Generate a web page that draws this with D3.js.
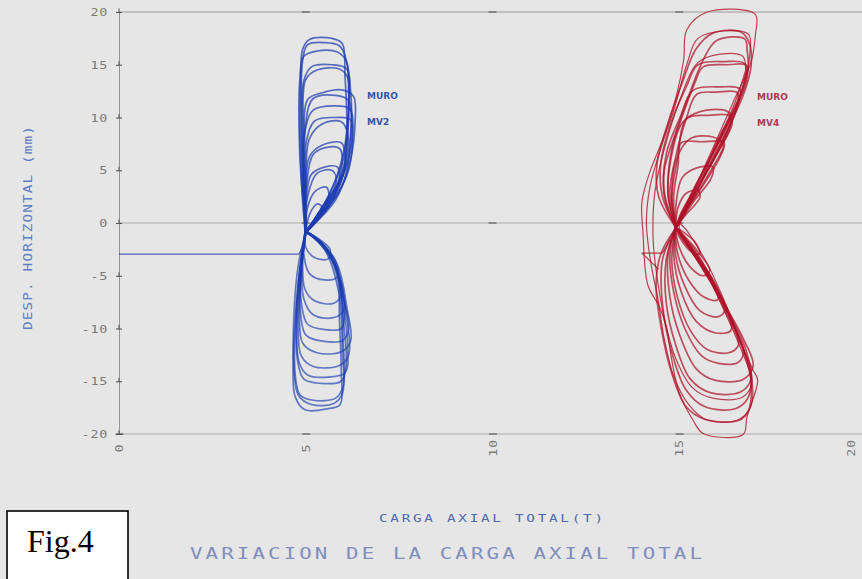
<!DOCTYPE html>
<html>
<head>
<meta charset="utf-8">
<script src="https://cdn.jsdelivr.net/npm/d3@7"></script>
<style>
  html, body { margin: 0; padding: 0; background: #e6e6e6; }
  svg { display: block; }
</style>
</head>
<body>
<svg id="chart" width="862" height="579"></svg>
<script>
// Axis ticks
const xTicks = [0, 5, 10, 15, 20];
const yTicks = [-20, -15, -10, -5, 0, 5, 10, 15, 20];

// Wall MV2: hysteresis loops, [axial load (t), horizontal displacement (mm)]
const mv2Lead = [[0, -2.95], [4.82, -2.95], [4.92, -2.2]];

const mv2Upper = [
  [[4.98,-0.8],[4.90,3.0],[4.85,8.0],[4.86,13.0],[4.92,16.5],[5.10,17.4],[5.70,17.5],[5.98,17.0],[6.05,14.0],[6.10,9.0],[6.00,4.5],[5.60,1.5],[5.05,-0.6]],
  [[5.0,-0.9],[4.92,4],[4.88,10],[4.92,15.5],[5.05,16.9],[5.5,17.1],[5.9,16.8],[6.08,15.5],[6.15,11],[6.05,6],[5.75,2.5],[5.1,-0.5]],
  [[5.02,-0.6],[4.88,4],[4.82,9],[4.84,13.5],[4.95,15.8],[5.3,16.3],[5.85,16.2],[6.1,15.2],[6.15,11.5],[6.0,6.5],[5.6,2.5],[5.0,-0.8]],
  [[5.0,-1.0],[4.93,3.5],[4.9,9],[4.95,13.5],[5.15,14.8],[5.7,15.0],[6.1,14.6],[6.2,12.5],[6.22,9],[6.1,5],[5.8,2.2],[5.05,-0.7]],
  [[4.98,-0.7],[4.95,4],[4.93,9.5],[5.0,13.6],[5.3,14.5],[5.9,14.6],[6.12,13.8],[6.15,10.5],[6.0,6],[5.6,2.5],[5.02,-0.8]],
  [[5.0,-0.9],[4.95,3.5],[4.95,8.5],[5.05,11.7],[5.4,12.3],[6.0,12.6],[6.28,12.0],[6.32,9.5],[6.2,6],[5.9,3],[5.1,-0.6]],
  [[4.98,-0.8],[4.97,4.5],[5.0,9.5],[5.2,11.8],[5.8,12.1],[6.15,11.6],[6.2,8.5],[6.0,4.5],[5.5,1.8],[5.0,-0.9]],
  [[5.02,-0.6],[4.93,4],[4.97,8.5],[5.2,10.7],[5.75,11.1],[6.18,10.8],[6.25,8.5],[6.05,5],[5.55,2],[5.0,-0.8]],
  [[5.0,-1.0],[4.98,3.5],[5.02,7.8],[5.25,9.7],[5.8,10.0],[6.2,9.8],[6.25,7.5],[6.1,4.5],[5.7,2],[5.05,-0.7]],
  [[4.98,-0.8],[5.0,4],[5.1,8],[5.45,9.4],[5.95,9.6],[6.12,8.5],[6.05,5.5],[5.7,2.5],[5.02,-0.9]],
  [[5.0,-0.9],[5.0,3],[5.1,6.3],[5.45,7.4],[5.95,7.6],[6.05,6.5],[5.95,4],[5.6,1.8],[5.05,-0.6]],
  [[4.98,-0.8],[5.02,3.5],[5.2,6.5],[5.6,7.2],[5.92,7.0],[5.95,5],[5.7,2.6],[5.02,-0.9]],
  [[5.0,-0.9],[5.02,2.5],[5.15,4.6],[5.5,5.3],[5.85,5.3],[5.9,4.2],[5.7,2.2],[5.05,-0.6]],
  [[4.98,-0.8],[5.05,2.5],[5.3,4.7],[5.7,5.0],[5.82,4.0],[5.55,1.8],[5.02,-0.9]],
  [[5.0,-0.9],[5.05,1.5],[5.25,3.0],[5.55,3.4],[5.62,2.5],[5.4,1],[5.05,-0.6]],
  [[5.0,-0.8],[5.1,0.8],[5.3,1.8],[5.42,1.6],[5.3,0.5],[5.02,-0.8]]
];

const mv2Lower = [
  [[5.0,-0.8],[4.85,-4],[4.72,-9],[4.66,-14],[4.72,-16.5],[4.98,-17.7],[5.6,-17.6],[5.92,-17.2],[5.95,-14],[5.9,-9],[5.85,-4.5],[5.5,-2.2],[5.02,-0.9]],
  [[5.02,-0.6],[4.8,-4],[4.68,-9],[4.68,-13.5],[4.8,-16.3],[5.15,-17.2],[5.75,-17.1],[5.98,-16.2],[5.98,-12],[5.88,-6.5],[5.5,-2.5],[5.0,-0.8]],
  [[4.98,-0.9],[4.82,-5],[4.72,-10],[4.72,-14.5],[4.85,-16.3],[5.2,-16.8],[5.8,-16.6],[6.0,-15.5],[6.0,-11],[5.88,-5],[5.45,-2],[5.0,-0.7]],
  [[5.0,-0.8],[4.85,-4.5],[4.76,-9],[4.78,-13],[4.95,-14.8],[5.4,-15.2],[5.95,-15.0],[6.08,-13.5],[6.0,-9],[5.85,-4.5],[5.4,-1.8],[5.0,-0.9]],
  [[5.02,-0.6],[4.84,-5],[4.76,-9.5],[4.82,-13.2],[5.05,-14.4],[5.6,-14.6],[6.05,-14.2],[6.12,-11.5],[5.95,-7],[5.7,-3.6],[5.2,-1.3],[5.0,-0.8]],
  [[4.98,-0.9],[4.86,-5],[4.8,-9.5],[4.88,-12.6],[5.2,-13.6],[5.9,-13.5],[6.15,-12.5],[6.1,-9],[5.85,-4.5],[5.4,-1.8],[5.02,-0.8]],
  [[5.0,-0.8],[4.88,-4.5],[4.83,-8.5],[4.92,-11.4],[5.3,-12.3],[5.95,-12.2],[6.2,-11.2],[6.1,-8],[5.85,-4],[5.35,-1.6],[5.0,-0.9]],
  [[5.02,-0.6],[4.88,-4.5],[4.86,-8.5],[5.0,-10.6],[5.45,-11.2],[6.0,-11.1],[6.15,-10],[6.0,-7],[5.75,-3.8],[5.3,-1.5],[5.0,-0.8]],
  [[4.98,-0.9],[4.88,-4],[4.88,-7.5],[5.05,-9.6],[5.5,-10.1],[5.95,-10.0],[6.05,-8.5],[5.9,-5],[5.5,-2.3],[5.02,-0.8]],
  [[5.02,-0.6],[4.9,-4],[4.95,-7.2],[5.2,-8.7],[5.7,-9.0],[6.0,-8.4],[5.92,-5.8],[5.6,-2.8],[5.0,-0.8]],
  [[5.0,-0.8],[4.92,-3.5],[4.98,-6.3],[5.25,-7.4],[5.75,-7.6],[5.95,-6.8],[5.85,-4.5],[5.45,-2],[5.0,-0.9]],
  [[4.98,-0.9],[4.95,-3],[5.1,-4.8],[5.5,-5.4],[5.85,-5.1],[5.8,-3.6],[5.4,-1.8],[5.02,-0.8]],
  [[5.0,-0.8],[5.0,-2.3],[5.25,-3.3],[5.6,-3.4],[5.65,-2.5],[5.3,-1.4],[5.0,-0.9]]
];

// Wall MV4: hysteresis loops, [axial load (t), horizontal displacement (mm)]
const mv4Lead = [[14.45,-4.4],[14.0,-2.85],[14.55,-2.85],[14.75,-1.6]];

const mv4Outer = [
  [[17.05,18.2],[17.03,19.8],[15.75,20.0],[15.2,18.3],[15.12,15.5],[14.92,12],[14.62,8.5],[14.2,4.7],[14.0,2.0],[14.03,-1],[14.16,-5.9],[14.48,-8.0],[14.67,-10.1],[14.8,-13.0],[15.0,-16.1],[15.37,-18.7],[15.64,-19.95],[16.71,-20.05],[16.81,-18.4],[17.1,-14.9],[16.97,-13.9],[16.7,-11.8],[16.28,-8.0],[15.74,-3.8],[15.2,-0.7],[15.0,0.2],[15.55,3.6],[16.0,7.7],[16.5,11],[16.82,14.3],[16.95,15.6],[17.05,18.2]],
  [[16.9,16.5],[16.85,17.9],[16.2,18.2],[15.5,17.5],[15.2,15],[14.88,11],[14.5,7],[14.22,3.5],[14.12,0],[14.25,-4],[14.42,-7],[14.6,-11],[14.85,-14.5],[15.25,-17.2],[15.7,-18.6],[16.55,-18.7],[16.9,-17.5],[16.95,-15],[16.6,-11.5],[16.1,-7.5],[15.55,-3.5],[15.0,-0.4],[15.45,3.5],[15.95,7.5],[16.45,11.5],[16.82,14.5],[16.9,16.5]],
  [[16.78,14.5],[16.7,15.8],[16.1,16.0],[15.5,15.2],[15.0,11.5],[14.6,7],[14.35,3],[14.3,-1.5],[14.4,-5],[14.6,-9],[14.9,-12.8],[15.35,-15.6],[15.9,-16.6],[16.7,-16.5],[16.95,-15],[16.7,-12],[16.25,-8.5],[15.6,-4],[14.95,-0.4],[15.4,3.2],[16.0,7.5],[16.5,11.5],[16.78,14.5]]
];

const mv4Upper = [
  [[14.9,-0.4],[14.62,2.5],[14.6,5],[14.9,8.5],[15.28,12.3],[15.62,15.3],[16.0,17.3],[16.75,17.45],[16.82,16.3],[16.84,14.5],[16.58,11.5],[16.08,7.8],[15.5,3.8],[14.95,-0.3]],
  [[14.92,-0.5],[14.45,2.5],[14.4,5.5],[14.7,9.5],[15.1,13.5],[15.45,16.5],[15.9,18.0],[16.65,18.1],[16.88,17.0],[16.92,14.8],[16.7,12],[16.2,8.3],[15.6,4.2],[14.95,-0.3]],
  [[14.9,-0.4],[14.7,3],[14.8,7],[15.12,10.5],[15.42,13.3],[15.64,14.8],[16.3,15.0],[16.8,14.95],[16.8,13.5],[16.5,10.8],[16.02,7.5],[15.45,3.5],[14.95,-0.3]],
  [[14.92,-0.5],[14.55,2.5],[14.5,5.5],[14.78,9.5],[15.2,13],[15.5,15.0],[16.2,15.3],[16.75,15.1],[16.72,13],[16.35,10],[15.88,6.5],[15.35,3],[14.9,-0.3]],
  [[14.9,-0.4],[14.75,3],[14.92,6.5],[15.18,9.8],[15.47,12.2],[16.0,12.4],[16.55,12.35],[16.55,11],[16.2,8],[15.68,4.5],[15.08,0.5],[14.92,-0.3]],
  [[14.92,-0.5],[14.6,2.5],[14.65,6.5],[15.02,10],[15.38,12.6],[16.1,12.9],[16.62,12.7],[16.5,10.5],[16.05,7],[15.48,3.2],[14.9,-0.3]],
  [[14.9,-0.4],[14.8,2.5],[14.95,6],[15.2,9.9],[15.8,10.2],[16.35,10.15],[16.35,9],[16.0,6.5],[15.48,3.2],[14.95,-0.3]],
  [[14.92,-0.5],[14.7,2.5],[14.8,6.5],[15.08,9.5],[15.6,10.6],[16.3,10.55],[16.42,9.5],[16.05,6.8],[15.52,3.5],[14.9,-0.3]],
  [[14.9,-0.4],[14.85,2.5],[14.97,5.5],[15.05,7.6],[15.6,7.7],[16.2,7.6],[16.1,6.3],[15.68,3.8],[15.15,1],[14.92,-0.3]],
  [[14.92,-0.5],[14.8,2.5],[14.92,6],[15.3,8.0],[15.9,8.15],[16.18,7.5],[15.85,5],[15.32,2],[14.9,-0.3]],
  [[14.9,-0.4],[14.92,2],[15.08,4.3],[15.45,5.2],[15.9,5.3],[15.85,4.2],[15.42,2.2],[14.95,-0.3]],
  [[14.9,-0.4],[14.97,1.5],[15.18,2.8],[15.5,3.1],[15.55,2.4],[15.18,0.8],[14.92,-0.3]]
];

const mv4Lower = [
  [[14.9,-0.5],[14.5,-3],[14.38,-6],[14.52,-10],[14.78,-14],[15.18,-17.4],[15.68,-18.6],[16.6,-18.7],[16.85,-17.8],[16.92,-15],[16.62,-11],[16.1,-7],[15.5,-3],[14.95,-0.6]],
  [[14.9,-0.5],[14.55,-3.5],[14.56,-8],[14.82,-12.5],[15.18,-15.8],[15.68,-17.4],[16.5,-17.6],[16.85,-16.5],[16.9,-14],[16.55,-10.5],[16.0,-6.5],[15.38,-2.6],[14.92,-0.4]],
  [[14.9,-0.4],[14.65,-3.5],[14.65,-7.5],[14.9,-11.5],[15.3,-14.8],[15.85,-16.1],[16.65,-16.0],[16.92,-14.8],[16.78,-12],[16.32,-8.5],[15.65,-4.5],[14.95,-0.5]],
  [[14.9,-0.5],[14.7,-3],[14.75,-7],[15.0,-10.5],[15.45,-13.8],[15.95,-14.9],[16.72,-14.8],[16.98,-13.5],[16.72,-11],[16.18,-7.5],[15.55,-3.8],[14.95,-0.6]],
  [[14.9,-0.4],[14.75,-3],[14.85,-6.5],[15.15,-10],[15.6,-12.6],[16.05,-13.3],[16.58,-13.2],[16.72,-12.2],[16.42,-9.5],[15.92,-6],[15.35,-2.8],[14.92,-0.5]],
  [[14.9,-0.5],[14.8,-3.5],[14.95,-7],[15.3,-10.2],[15.75,-12.0],[16.32,-12.3],[16.58,-11.6],[16.38,-9],[15.88,-5.5],[15.25,-2.3],[14.95,-0.6]],
  [[14.9,-0.4],[14.85,-3],[15.05,-6.5],[15.45,-9.3],[15.95,-10.4],[16.38,-10.2],[16.32,-8.5],[15.88,-5.5],[15.3,-2.5],[14.92,-0.5]],
  [[14.9,-0.5],[14.9,-3],[15.15,-6],[15.55,-8.3],[16.02,-8.9],[16.22,-8.3],[15.92,-5.5],[15.35,-2.5],[14.95,-0.6]],
  [[14.9,-0.4],[14.95,-2.8],[15.25,-5.4],[15.65,-7.0],[16.02,-7.3],[16.02,-6.3],[15.68,-4.2],[15.2,-1.8],[14.92,-0.5]],
  [[14.9,-0.5],[15.0,-2.3],[15.3,-4.2],[15.65,-5.0],[15.82,-4.5],[15.52,-2.8],[15.1,-1.1],[14.95,-0.6]],
  [[14.9,-0.4],[15.05,-1.6],[15.35,-2.8],[15.55,-2.9],[15.42,-1.8],[15.0,-0.6]]
];

// Scales
const svg = d3.select("#chart");
const x = d3.scaleLinear().domain([0, 20]).range([119, 866]);
const y = d3.scaleLinear().domain([-20, 20]).range([434, 12]);

const axisColor = "#8a8a8a";
const tickText = "#7a7a7a";
const plotFont = "'DejaVu Sans Mono', monospace";
const fmt = d => (d < 0 ? "-" + Math.abs(d) : String(d));

// Frame lines: top, zero, bottom
[20, 0, -20].forEach(v => {
  svg.append("line")
    .attr("x1", x(0)).attr("x2", x(20))
    .attr("y1", y(v)).attr("y2", y(v))
    .attr("stroke", axisColor).attr("stroke-width", 0.9)
    .attr("stroke-opacity", v === 20 ? 0.9 : 0.7);
});

// Y axis
const yAxis = svg.append("g")
  .attr("transform", `translate(${x(0)},0)`)
  .call(d3.axisLeft(y).tickValues(yTicks).tickSize(0).tickPadding(9).tickFormat(fmt));
yAxis.select(".domain").attr("stroke", axisColor).attr("stroke-width", 0.9);
yAxis.selectAll(".tick text")
  .attr("fill", tickText).attr("font-family", plotFont)
  .attr("font-size", 11).attr("letter-spacing", "0.6px")
  .attr("transform", "scale(1.22,1)");
yAxis.selectAll(".tick").each(function () {
  const g = d3.select(this);
  g.append("line").attr("x1", -3).attr("x2", 3).attr("y1", 0).attr("y2", 0)
    .attr("stroke", "#555").attr("stroke-width", 1.1);
  g.append("line").attr("x1", 0).attr("x2", 0).attr("y1", -4).attr("y2", 0)
    .attr("stroke", "#555").attr("stroke-width", 1);
});

// X axis
const xAxis = svg.append("g")
  .attr("transform", `translate(0,${y(-20)})`)
  .call(d3.axisBottom(x).tickValues(xTicks).tickSize(0).tickFormat(fmt));
xAxis.select(".domain").remove();
xAxis.selectAll(".tick text")
  .attr("fill", tickText).attr("font-family", plotFont)
  .attr("font-size", 11).attr("letter-spacing", "0.6px")
  .attr("text-anchor", "middle").attr("dy", null)
  .attr("y", 0).attr("x", 0).attr("dominant-baseline", "central")
  .attr("transform", d => `translate(${d === 20 ? -15 : 0},14) rotate(-90) scale(1.22,1)`);
xAxis.selectAll(".tick").each(function () {
  d3.select(this).append("line").attr("x1", -4).attr("x2", 4).attr("y1", 0).attr("y2", 0)
    .attr("stroke", "#555").attr("stroke-width", 1.1);
});

// Small marks along the zero line and top line
[5, 10, 15].forEach(v => {
  [0, 20].forEach(w => {
    svg.append("line")
      .attr("x1", x(v) - 4).attr("x2", x(v) + 4)
      .attr("y1", y(w)).attr("y2", y(w))
      .attr("stroke", "#555").attr("stroke-width", 1.1);
  });
});

// Loops
const smooth = d3.line()
  .x(d => x(d[0])).y(d => y(d[1]))
  .curve(d3.curveCatmullRom.alpha(0.5));
const straight = d3.line()
  .x(d => x(d[0])).y(d => y(d[1]));

function drawLoops(data, gen, color, width, opacity) {
  svg.append("g").selectAll("path").data(data).join("path")
    .attr("d", gen)
    .attr("fill", "none")
    .attr("stroke", color)
    .attr("stroke-width", width)
    .attr("stroke-opacity", opacity)
    .attr("stroke-linejoin", "round");
}

const blue = "#1c3cae";
const red = "#ae1228";

drawLoops([mv2Lead], straight, blue, 1.2, 0.75);
drawLoops(mv2Upper, smooth, blue, 1.7, 0.72);
drawLoops(mv2Lower, smooth, blue, 1.7, 0.66);

drawLoops([mv4Lead], straight, red, 1.2, 0.8);
drawLoops(mv4Outer, smooth, red, 1.2, 0.78);
drawLoops(mv4Upper, smooth, red, 1.7, 0.72);
drawLoops(mv4Lower, smooth, red, 1.7, 0.72);

// Wall labels
function wallLabel(lines, px, py, color) {
  lines.forEach((t, i) => {
    svg.append("text")
      .attr("x", px).attr("y", py + i * 26)
      .attr("fill", color).attr("font-family", "'DejaVu Sans', sans-serif")
      .attr("font-size", 9).attr("font-weight", "bold")
      .text(t);
  });
}
wallLabel(["MURO", "MV2"], 367, 99, "#3556b0");
wallLabel(["MURO", "MV4"], 757, 100, "#b03a58");

// Plotter-style lettering: widened glyphs spread over a given length
function plotText(str, px, py, size, stretch, length, color, angle) {
  svg.append("g")
    .attr("transform", `translate(${px},${py}) rotate(${angle || 0}) scale(${stretch},1)`)
    .append("text")
    .attr("x", 0).attr("y", 0)
    .attr("text-anchor", angle ? "middle" : "start")
    .attr("fill", color).attr("font-family", plotFont).attr("font-size", size)
    .attr("textLength", length / stretch).attr("lengthAdjust", "spacing")
    .text(str);
}

plotText("DESP. HORIZONTAL (mm)", 32, 228, 11.5, 1.25, 204, "#5d7dc4", -90);
plotText("CARGA AXIAL TOTAL(T)", 379, 522, 11, 1.3, 224, "#4f68b0");
plotText("VARIACION DE LA CARGA AXIAL TOTAL", 190, 559, 16, 1.3, 512, "#7f8ebd");

// Figure tag
svg.append("rect")
  .attr("x", 7).attr("y", 511).attr("width", 121).attr("height", 80)
  .attr("fill", "#ffffff").attr("stroke", "#000").attr("stroke-width", 1.6);
svg.append("text")
  .attr("x", 27).attr("y", 552)
  .attr("fill", "#000").attr("font-family", "'Liberation Serif', 'Times New Roman', serif")
  .attr("font-size", 32)
  .text("Fig.4");
</script>
</body>
</html>
